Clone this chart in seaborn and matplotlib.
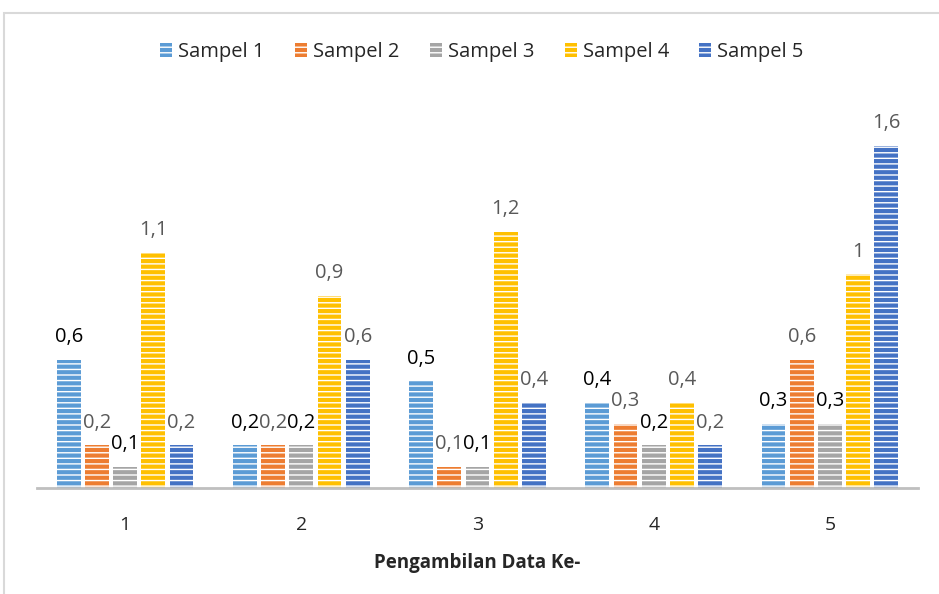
import matplotlib
matplotlib.use('Agg')
import matplotlib.pyplot as plt
import matplotlib.patches as mpatches
import seaborn as sns
import pandas as pd

# chart values
groups = ['1', '2', '3', '4', '5']
series = ['Sampel 1', 'Sampel 2', 'Sampel 3', 'Sampel 4', 'Sampel 5']
sampel_1 = [0.6, 0.2, 0.5, 0.4, 0.3]
sampel_2 = [0.2, 0.2, 0.1, 0.3, 0.6]
sampel_3 = [0.1, 0.2, 0.1, 0.2, 0.3]
sampel_4 = [1.1, 0.9, 1.2, 0.4, 1.0]
sampel_5 = [0.2, 0.6, 0.4, 0.2, 1.6]

colors = ['#5B9BD5', '#ED7D31', '#A5A5A5', '#FFC000', '#4472C4']
label_colors = ['#000000', '#595959', '#000000', '#595959', '#595959']

rows = []
for name, vals in zip(series, [sampel_1, sampel_2, sampel_3, sampel_4, sampel_5]):
    for g, v in zip(groups, vals):
        rows.append({'Data': g, 'Sampel': name, 'Nilai': v})
df = pd.DataFrame(rows)

sns.set_style('white')
plt.rcParams['font.family'] = ['Open Sans', 'DejaVu Sans']
plt.rcParams['hatch.linewidth'] = 1.0

fig = plt.figure(figsize=(9.39, 5.94), dpi=100)
ax = fig.add_axes([37 / 939, (594 - 488) / 594, (918 - 37) / 939, (488 - 100) / 594])

sns.barplot(data=df, x='Data', y='Nilai', hue='Sampel', palette=colors,
            saturation=1, width=0.8, gap=0.15, ax=ax, legend=False)

# horizontal white stripes on the bars, like the Excel texture
for i, cont in enumerate(ax.containers):
    for bar in cont:
        bar.set_hatch('---')
        bar.set_edgecolor('white')
        bar.set_linewidth(0)
    ax.bar_label(cont, labels=[f'{v:g}'.replace('.', ',') for v in cont.datavalues],
                 padding=9, fontsize=14.5, color=label_colors[i])

ax.set_ylim(0, (488 - 100) / 213.75)
ax.set_yticks([])
ax.set_ylabel('')
ax.set_xlabel('Pengambilan Data Ke-', fontsize=13.5, fontweight='bold', labelpad=14)
ax.tick_params(axis='x', length=0, labelsize=14, pad=20)
sns.despine(ax=ax, left=True)
ax.spines['bottom'].set_color('#BFBFBF')
ax.spines['bottom'].set_linewidth(2)

handles = []
for c in colors:
    p = mpatches.Patch(facecolor=c, edgecolor='white', linewidth=0, hatch='---')
    handles.append(p)
fig.legend(handles, series, loc='center', bbox_to_anchor=(482 / 939, 1 - 52 / 594),
           ncol=5, frameon=False, fontsize=14.5, handlelength=0.6, handleheight=0.7,
           handletextpad=0.3, columnspacing=1.5)

# light chart border (cut off at right and bottom)
fig.patches.append(mpatches.Rectangle((4 / 939, -0.05), 1.1, 1 - 13 / 594 + 0.05,
                                      transform=fig.transFigure, fill=False,
                                      edgecolor='#D9D9D9', linewidth=1.5))

fig.savefig('out.png', dpi=100)
